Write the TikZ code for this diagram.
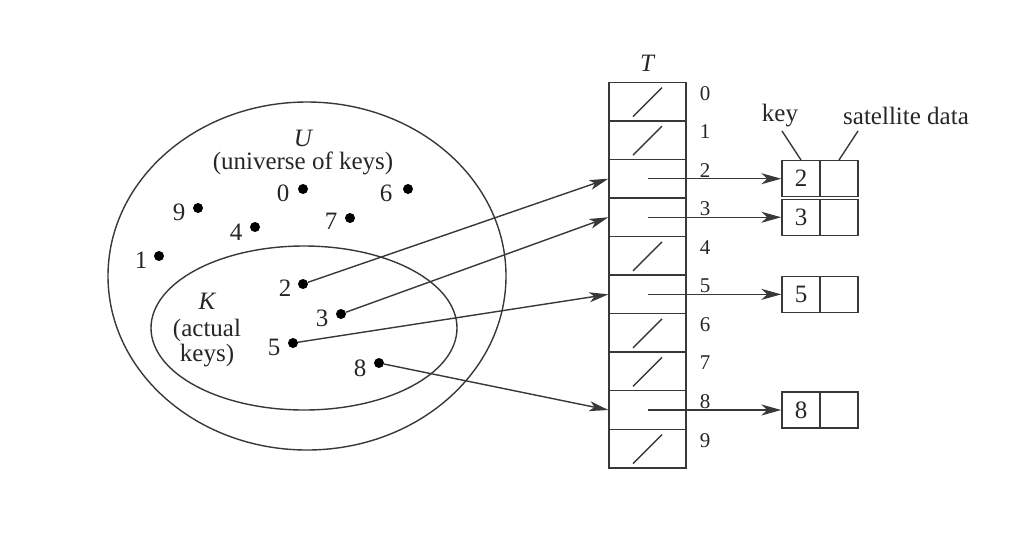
\documentclass[tikz,border=0pt]{standalone}
\usepackage{fontspec}
\setmainfont{Liberation Serif}
\usetikzlibrary{arrows.meta,calc}
\begin{document}
\begin{tikzpicture}[x=1pt,y=-1pt,
  every node/.style={text=black!85},
  lbl/.style={font=\fontsize{25}{28}\selectfont, inner sep=0pt},
  idx/.style={font=\fontsize{21}{24}\selectfont, inner sep=0pt, anchor=base},
  ln/.style={line width=1.4pt, draw=black!78},
  dot/.style={circle, fill=black, inner sep=0pt, minimum size=10pt},
  cell/.style={draw=black!78, line width=1.4pt, minimum width=77pt, minimum height=38.55pt, inner sep=0pt},
  half/.style={draw=black!78, line width=1.4pt, minimum width=38pt, minimum height=36pt, inner sep=0pt, font=\fontsize{25}{28}\selectfont},
  ptr/.style={line width=1.4pt, draw=black!78, -{Stealth[length=20pt,width=11pt,inset=6pt]}},
  kptr/.style={line width=1.4pt, draw=black!78, -{Stealth[length=19pt,width=10pt,inset=5pt]}},
]
\useasboundingbox (0,0) rectangle (1028,542);

% universe and actual keys
\draw[ln] (307,276) ellipse [x radius=199pt, y radius=174pt];
\draw[ln] (304,328) ellipse [x radius=153pt, y radius=82pt];

\node[lbl] (ulab) at (303,138) {\itshape U};
\node[lbl] (utxt) at (303,163) {(universe of keys)};
\node[lbl] (klab) at (207,301) {\itshape K};
\node[lbl] (ktxt1) at (207,330) {(actual};
\node[lbl] (ktxt2) at (207,356) {keys)};

% dots
\foreach \n/\dx/\dy/\lx/\ly in {0/303/189/283/193, 6/408/189/386/193, 9/198/208/179/212,
  4/255/227/236/232, 7/350/218/331/221, 1/159/256/141/260, 2/303/284/285/288,
  3/341/314/322/318, 5/293/343/274/347, 8/379/363/360/368}{
  \node[dot] (d\n) at (\dx,\dy) {};
  \node[lbl] (dl\n) at (\lx,\ly) {\n};
}

% table T
\node[lbl] (tlab) at (647,63) {\itshape T};
\foreach \i in {0,...,9}{
  \node[cell] (c\i) at (647.5,{101.6+38.55*\i}) {};
  \node[idx] (ix\i) at ($(c\i.center)+(57.5,-1.5)$) {\i};
}
\foreach \i in {0,1,4,6,7,9}{
  \draw[ln] ($(c\i.center)+(-14.5,15)$) -- ($(c\i.center)+(14.5,-14)$);
}

% satellite boxes
\foreach \k in {2,3,5,8}{
  \node[half] (k\k) at ($(c\k.center)+(153.5,0)$) {\k};
  \node[half] (s\k) at ($(c\k.center)+(191.5,0)$) {};
  \draw[ptr] (c\k.center) -- (k\k.west);
}

% arrows from keys
\draw[kptr] (d2) -- (c2.west);
\draw[kptr] (d3) -- (c3.west);
\draw[kptr] (d5) -- (c5.west);
\draw[kptr] (d8) -- (c8.west);

% key / satellite data labels
\node[lbl] (keylab) at (780,116) {key};
\node[lbl] (satlab) at (906,116) {satellite data};
\coordinate (keyend) at (782,131);
\coordinate (satend) at (858,131);
\draw[ln] (keyend) -- (k2.north);
\draw[ln] (satend) -- (s2.north);
\end{tikzpicture}
\end{document}
